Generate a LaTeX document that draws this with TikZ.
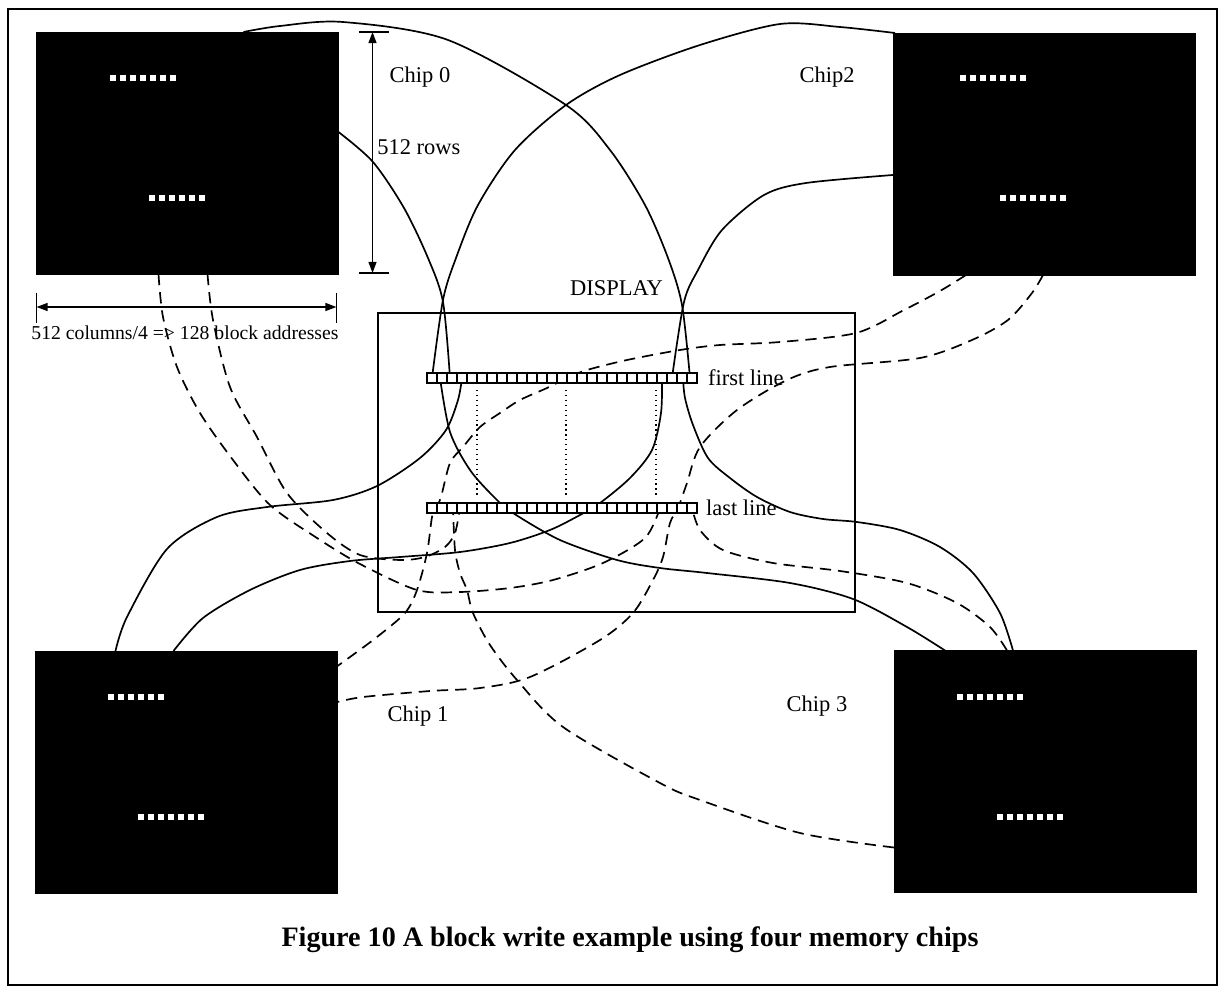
\documentclass[tikz,border=0pt]{standalone}
\usepackage{fontspec}
\setmainfont{Liberation Serif}
\usepackage{tikz}
\usetikzlibrary{arrows.meta, positioning, calc}
\tikzstyle{chip} = [
    draw=black,
    fill=black,
    minimum width=75.5mm,
    minimum height=60.5mm,
    inner sep=0pt,
    outer sep=0pt
]
\tikzstyle{strip} = [
    draw=black,
    fill=white,
    line width=1.6pt,
    minimum width=67.5mm,
    minimum height=2.5mm,
    inner sep=0pt,
    outer sep=0pt
]
\tikzstyle{wire} = [line width=1.2pt]
\tikzstyle{dashwire} = [line width=1.2pt, dash pattern=on 8pt off 5pt]
\tikzstyle{dimarrow} = [
    line width=1.1pt,
    {Triangle[length=2.8mm,width=2mm]}-{Triangle[length=2.8mm,width=2mm]}
]
\tikzstyle{txt} = [inner sep=0pt, font=\fontsize{16}{19}\selectfont]
\newcommand{\dotrow}[3]{%
    \foreach \k in {1,...,#3} \fill[white] ({#1+(\k-1)*10},{#2-3.2}) rectangle ++(6.4,6.4);}

\begin{document}
\begin{tikzpicture}[x=0.25mm, y=-0.25mm]
        \useasboundingbox (0,0) rectangle (1222,990);
        % Frame
        \draw[line width=1pt] (8,9) rectangle (1217,985);

        % Chips
        \node[chip] (chip0) at (187.5,153) {};
        \node[chip] (chip2) at (1044,154) {};
        \node[chip] (chip1) at (186.5,772) {};
        \node[chip] (chip3) at (1045,771.5) {};
        \dotrow{110}{78}{7}   \dotrow{149}{198}{6}
        \dotrow{960}{78}{7}   \dotrow{1000}{198}{7}
        \dotrow{108}{697}{6}  \dotrow{138}{817}{7}
        \dotrow{957}{697}{7}  \dotrow{997}{817}{7}

        % Display
        \node[draw, line width=1.2pt, minimum width=119.25mm, minimum height=74.75mm,
              inner sep=0pt, outer sep=0pt] (display) at (616.5,462.5) {};
        \node[txt, above=4.2mm of display] (displbl) {DISPLAY};

        % Wire ends on the chips
        \coordinate (c0t) at ($(chip0.north west)+(207,0)$);
        \coordinate (c0r) at ($(chip0.north east)+(0,100)$);
        \coordinate (c0a) at ($(chip0.south west)+(122,0)$);
        \coordinate (c0b) at ($(chip0.south west)+(171,0)$);
        \coordinate (c2t) at ($(chip2.north west)+(2,0)$);
        \coordinate (c2l) at ($(chip2.north west)+(0,142)$);
        \coordinate (c2a) at ($(chip2.south west)+(73,0)$);
        \coordinate (c2b) at ($(chip2.south west)+(150,0)$);
        \coordinate (c1a) at ($(chip1.north west)+(80,0)$);
        \coordinate (c1b) at ($(chip1.north west)+(138,0)$);
        \coordinate (c1u) at ($(chip1.north east)+(0,15)$);
        \coordinate (c1d) at ($(chip1.north east)+(0,51)$);
        \coordinate (c3a) at ($(chip3.north west)+(51,0)$);
        \coordinate (c3b) at ($(chip3.north west)+(119,0)$);
        \coordinate (c3t) at ($(chip3.north west)+(113,0)$);
        \coordinate (c3l) at ($(chip3.north west)+(0,197)$);

        % Solid wires
        \draw[wire] plot[smooth] coordinates {(c0t) (280,26) (343,22) (448,40) (566,105) (610,150) (645,205) (668,258) (682,305) (690,378)};
        \draw[wire] plot[smooth] coordinates {(c2t) (840,27) (780,24) (700,45) (620,75) (566,105) (515,150) (478,205) (456,258) (443,300) (432,378)};
        \draw[wire] plot[smooth] coordinates {(c0r) (373,162) (404,208) (428,258) (443,302) (450,378)};
        \draw[wire] plot[smooth] coordinates {(c2l) (806,183) (764,195) (722,230) (698,270) (684,302) (672,378)};
        \draw[wire] plot[smooth] coordinates {(c1a) (127,617) (167,549) (217,517) (267,507) (333,500) (377,486) (420,458) (446,430) (458,400) (462,378)};
        \draw[wire] plot[smooth] coordinates {(c1b) (203,618) (250,590) (300,570) (350,561) (400,557) (460,552) (510,543) (550,530) (580,515) (600,503) (630,478) (652,450) (661,413) (662,378)};
        \draw[wire] plot[smooth] coordinates {(c3a) (907,627) (853,599) (790,583) (707,573) (660,568) (617,560) (560,540) (513,513) (495,498) (470,470) (450,432) (440,378)};
        \draw[wire] plot[smooth] coordinates {(c3b) (1000,613) (973,573) (940,547) (900,530) (857,522) (823,519) (790,512) (757,497) (730,478) (708,458) (693,425) (685,398) (683,378)};

        % Dashed wires
        \draw[dashwire] plot[smooth] coordinates {(c0a) (163,317) (177,367) (200,413) (233,460) (270,505) (317,538) (360,564) (417,590) (460,592) (510,588) (553,580) (603,563) (645,538) (660,508)};
        \draw[dashwire] plot[smooth] coordinates {(c0b) (213,320) (230,387) (257,437) (287,493) (327,533) (360,555) (400,560) (425,557) (445,547) (455,533) (460,508)};
        \draw[dashwire] plot[smooth] coordinates {(c2a) (940,291) (904,310) (856,333) (780,342) (720,345) (680,350) (627,360) (587,370) (567,378) (547,388) (520,400) (500,413) (480,427) (463,447) (450,463) (441,497) (436,508) (432,517) (427,553) (417,590) (405,613) (377,637) (350,657) (c1u)};
        \draw[dashwire] plot[smooth] coordinates {(c2b) (1032,293) (1008,320) (972,340) (920,358) (830,367) (787,380) (737,410) (700,447) (687,483) (678,508) (670,523) (663,557) (653,580) (633,613) (600,640) (530,677) (480,688) (430,691) (363,697) (c1d)};
        \draw[dashwire] plot[smooth] coordinates {(c3t) (990,627) (957,603) (907,583) (840,571) (773,563) (723,550) (700,530) (692,508)};
        \draw[dashwire] plot[smooth] coordinates {(c3l) (800,833) (700,800) (660,783) (563,727) (517,680) (490,645) (473,613) (467,590) (460,573) (455,550) (453,508)};

        % Lines of the display
        \node[strip] (firstline) at (562,378) {};
        \node[strip] (lastline) at (562,508) {};
        \foreach \i in {1,...,26} {
            \draw[line width=1.6pt] ([xshift=\i*2.5mm]firstline.north west) -- ([xshift=\i*2.5mm]firstline.south west);
            \draw[line width=1.6pt] ([xshift=\i*2.5mm]lastline.north west) -- ([xshift=\i*2.5mm]lastline.south west);
        }
        \foreach \d in {50,139,229}
            \draw[line width=1.2pt, dash pattern=on 0.9pt off 2.6pt] ($(firstline.south west)+(\d,7)$) -- ($(lastline.north west)+(\d,-8)$);
        \node[txt, right=2.7mm of firstline] (firstlbl) {first line};
        \node[txt, right=2.2mm of lastline] (lastlbl) {last line};

        % Chip size
        \coordinate (rowtop) at ($(chip0.north east)+(34,0)$);
        \coordinate (rowbot) at ($(chip0.south east)+(34,-1)$);
        \draw[dimarrow] (rowtop) -- (rowbot);
        \draw[line width=1.1pt] ([xshift=-3.5mm]rowtop) -- ([xshift=4.2mm]rowtop);
        \draw[line width=1.1pt] ([xshift=-3.5mm]rowbot) -- ([xshift=4.2mm]rowbot);
        \coordinate (colleft) at ($(chip0.south west)+(0,33)$);
        \coordinate (colright) at ($(chip0.south east)+(-2,33)$);
        \draw[dimarrow] (colleft) -- (colright);
        \draw[line width=1.1pt] ([yshift=3.6mm]colleft) -- ([yshift=-4mm]colleft);
        \draw[line width=1.1pt] ([yshift=3.6mm]colright) -- ([yshift=-4mm]colright);

        % Labels
        \node[txt] (chip0lbl) at (420,77) {Chip 0};
        \node[txt, anchor=west] (rowslbl) at (377,147) {512 rows};
        \node[txt] (chip2lbl) at (827,77) {Chip2};
        \node[txt] (chip1lbl) at (418,716) {Chip 1};
        \node[txt] (chip3lbl) at (817,706) {Chip 3};
        \node[txt, font=\fontsize{14}{17}\selectfont] (collbl) at (185,333) {512 columns/4 => 128 block addresses};

        % Caption
        \node[font=\bfseries\fontsize{20}{24}\selectfont] (caption) at (630,940) {Figure 10 A block write example using four memory chips};
    \end{tikzpicture}
\end{document}
